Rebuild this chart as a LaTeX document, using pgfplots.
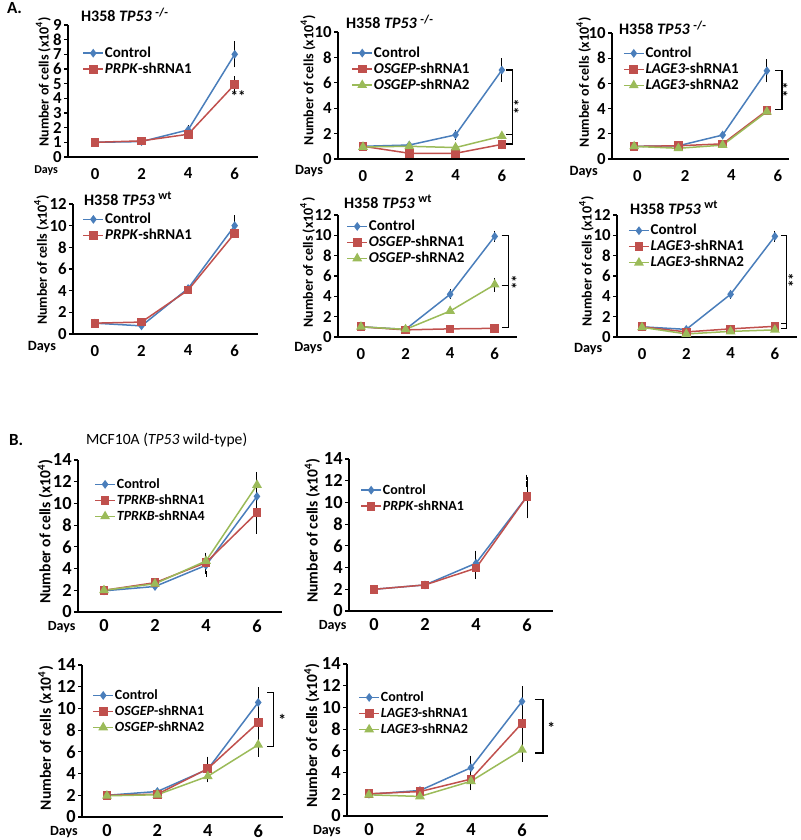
\documentclass[border=0pt]{standalone}
\usepackage{fontspec}
\setmainfont{Carlito}
\usepackage{pgfplots}
\pgfplotsset{compat=1.18}
\definecolor{cblue}{RGB}{74,126,187}
\definecolor{cred}{RGB}{192,80,77}
\definecolor{cgreen}{RGB}{155,187,89}
\newcommand{\fA}{\bfseries\fontsize{8.4}{9}\selectfont}
\newcommand{\dA}{\bfseries\fontsize{7.1}{8}\selectfont}
\newcommand{\dAs}{\bfseries\fontsize{6}{7}\selectfont}
\newcommand{\fB}{\bfseries\fontsize{9.2}{10}\selectfont}
\newcommand{\lA}{\bfseries\fontsize{7.5}{9}\selectfont}
\newcommand{\yA}{\bfseries\fontsize{7}{9}\selectfont}
\newcommand{\lB}{\bfseries\fontsize{7}{8}\selectfont}
\newcommand{\yB}{\bfseries\fontsize{7.8}{9}\selectfont}
\newcommand{\days}[3]{\node[font=#3, inner sep=0.5pt] at (axis description cs:#1,#2) {Days};}
\pgfplotsset{
  base/.style={
    scale only axis, anchor=south west, clip=false,
    axis lines*=left,
    axis line style={line width=0.8pt, black},
    ymin=0, xmax=7, xtick={0,2,4,6},
    tick align=outside,
    major x tick style={draw=none},
    major y tick style={line width=0.6pt, black},
    major tick length=2pt,
    yticklabel style={inner sep=1pt},
    /pgf/number format/assume math mode=true,
    ylabel={Number of cells (x10\textsuperscript{4})},
    legend cell align=left,
    legend style={draw=none, fill=none, inner sep=0pt, row sep=0pt, anchor=north west,
      nodes={inner sep=0.5pt, text height=5.5pt, text depth=1.5pt}},
    legend image code/.code={\draw[mark repeat=2,mark phase=2,##1] plot coordinates {(0pt,0pt) (5pt,0pt) (10pt,0pt)};},
  },
  pA/.style={base, tick label style={font=\fA}, ylabel style={font=\yA, inner sep=1pt}, legend style={font=\lA}},
  pB/.style={base, tick label style={font=\fB}, xticklabel style={yshift=1.6pt}, ylabel style={font=\yB, inner sep=1pt}, legend style={font=\lB}},
  geo/.style n args={6}{at={(#1pt,#2pt)}, width=#3pt, height=#4pt, xmin=#5, ymax=#6},
  yl/.style 2 args={ylabel style={at={(axis description cs:#1,#2)}, anchor=center}},
  lg/.style 2 args={legend style={at={(axis description cs:#1,#2)}}},
  ctrl/.style={cblue, line width=0.75pt, mark=diamond*, mark size=1.6pt, mark options={solid, fill=cblue}},
  shA/.style={cred, line width=0.75pt, mark=square*, mark size=1.8pt, mark options={solid, fill=cred}},
  shB/.style={cgreen, line width=0.75pt, mark=triangle*, mark size=2.1pt, mark options={solid, fill=cgreen}},
  eb/.style={forget plot, draw=none, mark=none, error bars/.cd, y dir=both, y explicit,
    error bar style={draw=black, line width=0.5pt, solid},
    error mark options={draw=black, line width=0.5pt, mark size=1.4pt}},
}
\begin{document}
\begin{tikzpicture}
\path[use as bounding box] (0pt,0pt) rectangle (400pt,420pt);
% titles
\node[anchor=west, font=\bfseries\fontsize{8.5}{10}\selectfont] at (0pt,416pt) {A.};
\node[anchor=west, font=\bfseries\fontsize{8}{10}\selectfont] at (37pt,412.5pt) {H358 \textit{TP53} \textsuperscript{-/-}};
\node[anchor=west, font=\bfseries\fontsize{8}{10}\selectfont] at (169.5pt,409pt) {H358 \textit{TP53} \textsuperscript{-/-}};
\node[anchor=west, font=\bfseries\fontsize{8}{10}\selectfont] at (306pt,406pt) {H358 \textit{TP53} \textsuperscript{-/-}};
\node[anchor=west, font=\bfseries\fontsize{8}{10}\selectfont] at (38.5pt,320.5pt) {H358 \textit{TP53} \textsuperscript{wt}};
\node[anchor=west, font=\bfseries\fontsize{8}{10}\selectfont] at (168.5pt,319pt) {H358 \textit{TP53} \textsuperscript{wt}};
\node[anchor=west, font=\bfseries\fontsize{8}{10}\selectfont] at (311.5pt,316pt) {H358 \textit{TP53} \textsuperscript{wt}};
\node[anchor=west, font=\bfseries\fontsize{8.5}{10}\selectfont] at (1pt,200pt) {B.};
\node[anchor=west, font=\fontsize{7.8}{10}\selectfont] at (39.5pt,200pt) {MCF10A (\textit{TP53} wild-type)};

% A1
\begin{axis}[pA, geo={34}{341.5}{95}{66}{-1.16}{9}, ytick={0,...,9}, yl={-0.13}{0.57}, lg={0.074}{0.85}]
\addplot[ctrl] coordinates {(0,1) (2,1.05) (4,1.85) (6,7.0)};
\addplot[shA] coordinates {(0,1) (2,1.1) (4,1.55) (6,4.95)};
\addplot[eb] coordinates {(4,1.85) +- (0,0.15) (6,7.0) +- (0,0.7) (6,4.95) +- (0,0.35)};
\legend{Control, \textit{PRPK}-shRNA1}
\node[font=\lA] at (axis cs:6.15,4.15) {**};
\days{-0.115}{-0.105}{\dAs}
\end{axis}

% A2
\begin{axis}[pA, geo={169}{340.5}{93.5}{63.5}{-1.08}{10}, ytick={0,2,...,10}, yl={-0.16}{0.62}, lg={0.07}{0.90}]
\addplot[ctrl] coordinates {(0,1) (2,1.1) (4,1.9) (6,7.0)};
\addplot[shA] coordinates {(0,1) (2,0.45) (4,0.45) (6,1.15)};
\addplot[shB] coordinates {(0,0.95) (2,1.0) (4,0.9) (6,1.8)};
\addplot[eb] coordinates {(4,1.9) +- (0,0.2) (6,7.0) +- (0,0.7) (6,1.15) +- (0,0.15)};
\legend{Control, \textit{OSGEP}-shRNA1, \textit{OSGEP}-shRNA2}
\draw[black, line width=0.6pt] (axis cs:6.2,7.0) -- (axis cs:6.47,7.0) -- (axis cs:6.47,1.18) -- (axis cs:6.2,1.18);
\draw[black, line width=0.6pt] (axis cs:6.2,1.9) -- (axis cs:6.47,1.9);
\node[font=\lA, rotate=90] at (axis cs:6.75,4.1) {**};
\days{-0.155}{-0.095}{\dA}
\end{axis}

% A3
\begin{axis}[pA, geo={306}{340.5}{88.5}{63}{-1}{10}, xtick={0.15,2.3,4.4,6.5}, xticklabels={0,2,4,6}, ytick={0,2,...,10}, yl={-0.16}{0.61}, lg={0.06}{0.905}]
\addplot[ctrl] coordinates {(0,1) (2,1.05) (4,1.9) (6,7.0)};
\addplot[shA] coordinates {(0,1) (2,1.05) (4,1.2) (6,3.85)};
\addplot[shB] coordinates {(0,1) (2,0.85) (4,1.1) (6,3.75)};
\addplot[eb] coordinates {(4,1.9) +- (0,0.12) (6,7.0) +- (0,0.7)};
\legend{Control, \textit{LAGE3}-shRNA1, \textit{LAGE3}-shRNA2}
\draw[black, line width=0.6pt] (axis cs:6.36,7.0) -- (axis cs:6.68,7.0) -- (axis cs:6.68,3.9) -- (axis cs:6.36,3.9);
\node[font=\lA, rotate=90] at (axis cs:6.95,5.5) {**};
\days{-0.16}{-0.1}{\dA}
\end{axis}

% A4
\begin{axis}[pA, geo={36.5}{253}{92.5}{65}{-0.94}{12}, ytick={0,2,...,12}, yl={-0.17}{0.57}, lg={0.05}{0.946}]
\addplot[ctrl] coordinates {(0,1) (2,0.75) (4,4.2) (6,10.0)};
\addplot[shA] coordinates {(0,1) (2,1.1) (4,4.05) (6,9.3)};
\addplot[eb] coordinates {(6,10.0) +- (0,0.7)};
\legend{Control, \textit{PRPK}-shRNA1}
\days{-0.168}{-0.1}{\dA}
\end{axis}

% A5
\begin{axis}[pA, geo={169}{251.5}{89.5}{61}{-1.03}{12}, ytick={0,2,...,12}, yl={-0.17}{0.61}, lg={0.045}{0.975}]
\addplot[ctrl] coordinates {(0,1) (2,0.75) (4,4.2) (6,9.9)};
\addplot[shA] coordinates {(0,1) (2,0.7) (4,0.8) (6,0.85)};
\addplot[shB] coordinates {(0,1) (2,0.75) (4,2.55) (6,5.15)};
\addplot[eb] coordinates {(4,4.2) +- (0,0.2) (6,9.9) +- (0,0.25) (6,5.15) +- (0,0.4)};
\legend{Control, \textit{OSGEP}-shRNA1, \textit{OSGEP}-shRNA2}
\draw[black, line width=0.6pt] (axis cs:6.31,10.0) -- (axis cs:6.63,10.0) -- (axis cs:6.63,0.9) -- (axis cs:6.31,0.9);
\draw[black, line width=0.6pt] (axis cs:6.31,5.1) -- (axis cs:6.63,5.1);
\node[font=\lA, rotate=90] at (axis cs:7.0,5.4) {**};
\days{-0.166}{-0.09}{\dA}
\end{axis}

% A6
\begin{axis}[pA, geo={308.5}{251.5}{90}{61}{-1.13}{12}, ytick={0,2,...,12}, yl={-0.17}{0.62}, lg={0.06}{0.94}]
\addplot[ctrl] coordinates {(0,1) (2,0.75) (4,4.2) (6,9.9)};
\addplot[shA] coordinates {(0,1) (2,0.5) (4,0.8) (6,1.05)};
\addplot[shB] coordinates {(0,0.95) (2,0.3) (4,0.55) (6,0.7)};
\addplot[eb] coordinates {(4,4.2) +- (0,0.15) (6,9.9) +- (0,0.25)};
\legend{Control, \textit{LAGE3}-shRNA1, \textit{LAGE3}-shRNA2}
\draw[black, line width=0.6pt] (axis cs:6.27,9.95) -- (axis cs:6.54,9.95) -- (axis cs:6.54,0.8) -- (axis cs:6.27,0.8);
\draw[black, line width=0.6pt] (axis cs:6.27,1.3) -- (axis cs:6.54,1.3);
\node[font=\lA, rotate=90] at (axis cs:6.85,5.6) {**};
\days{-0.16}{-0.1}{\dA}
\end{axis}

% B1
\begin{axis}[pB, geo={39}{114}{102.25}{76}{-1.02}{14}, ytick={0,2,...,14}, yl={-0.16}{0.53}, lg={0.078}{0.895}]
\addplot[ctrl] coordinates {(0,1.95) (2,2.35) (4,4.3) (6,10.65)};
\addplot[shA] coordinates {(0,2.0) (2,2.7) (4,4.55) (6,9.15)};
\addplot[shB] coordinates {(0,2.0) (2,2.6) (4,4.7) (6,11.7)};
\addplot[eb] coordinates {(4,4.3) +- (0,0.8) (4,4.7) +- (0,0.5) (6,10.65) +- (0,1.05) (6,9.15) +- (0,1.7) (6,11.7) +- (0,0.95)};
\legend{Control, \textit{TPRKB}-shRNA1, \textit{TPRKB}-shRNA4}
\days{-0.08}{-0.098}{\lB}
\end{axis}

% B2
\begin{axis}[pB, geo={174.5}{114.5}{101.75}{76}{-0.98}{14}, ytick={0,2,...,14}, yl={-0.18}{0.53}, lg={0.054}{0.85}]
\addplot[ctrl] coordinates {(0,2.0) (2,2.4) (4,4.4) (6,10.55)};
\addplot[shA] coordinates {(0,2.0) (2,2.4) (4,3.95) (6,10.55)};
\addplot[eb] coordinates {(4,4.4) +- (0,0.9) (4,3.95) +- (0,0.75) (6,10.55) +- (0,1.15) (6,10.55) +- (0,1.75)};
\legend{Control, \textit{PRPK}-shRNA1}
\days{-0.08}{-0.1}{\lB}
\end{axis}

% B3
\begin{axis}[pB, geo={41}{11.5}{100.7}{76}{-0.99}{14}, ytick={0,2,...,14}, yl={-0.18}{0.52}, lg={0.05}{0.855}]
\addplot[ctrl] coordinates {(0,2.0) (2,2.35) (4,4.4) (6,10.55)};
\addplot[shA] coordinates {(0,2.0) (2,2.1) (4,4.45) (6,8.7)};
\addplot[shB] coordinates {(0,1.95) (2,2.05) (4,3.75) (6,6.65)};
\addplot[eb] coordinates {(4,4.4) +- (0,0.9) (4,3.75) +- (0,0.3) (6,10.55) +- (0,1.15) (6,8.7) +- (0,0.9) (6,6.65) +- (0,0.85)};
\legend{Control, \textit{OSGEP}-shRNA1, \textit{OSGEP}-shRNA2}
\draw[black, line width=0.6pt] (axis cs:6.36,11.5) -- (axis cs:6.6,11.5) -- (axis cs:6.6,6.5) -- (axis cs:6.36,6.5);
\node[font=\yB] at (axis cs:6.95,8.9) {*};
\days{-0.09}{-0.098}{\lB}
\end{axis}

% B4
\begin{axis}[pB, geo={173.5}{12}{100.25}{76}{-0.86}{14}, ytick={0,2,...,14}, yl={-0.175}{0.53}, lg={0.055}{0.835}]
\addplot[ctrl] coordinates {(0,2.0) (2,2.35) (4,4.45) (6,10.55)};
\addplot[shA] coordinates {(0,2.05) (2,2.25) (4,3.4) (6,8.55)};
\addplot[shB] coordinates {(0,1.95) (2,1.8) (4,3.2) (6,6.1)};
\addplot[eb] coordinates {(4,4.45) +- (0,0.85) (4,3.4) +- (0,0.5) (4,3.2) +- (0,0.55) (6,10.55) +- (0,1.15) (6,8.55) +- (0,1.6) (6,6.1) +- (0,0.85)};
\legend{Control, \textit{LAGE3}-shRNA1, \textit{LAGE3}-shRNA2}
\draw[black, line width=0.6pt] (axis cs:6.5,10.7) -- (axis cs:6.82,10.7) -- (axis cs:6.82,5.8) -- (axis cs:6.5,5.8);
\node[font=\yB] at (axis cs:7.15,8.1) {*};
\days{-0.1}{-0.1}{\lB}
\end{axis}
\end{tikzpicture}
\end{document}
